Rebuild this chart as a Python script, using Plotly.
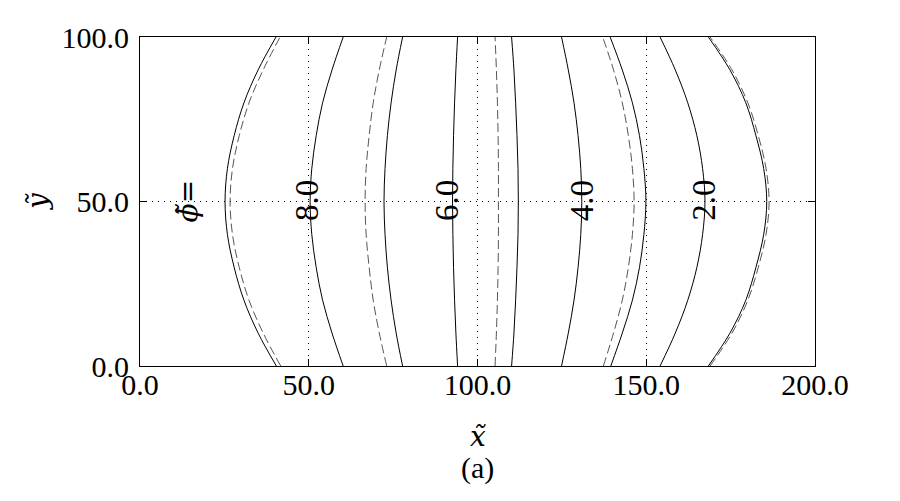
import plotly.graph_objects as go

# y levels at which each contour position was read
y_levels = [0, 10, 20, 30, 40, 50, 60, 70, 80, 90, 100]

# solid contours (x positions at each y level)
solid_A = [40.4, 35.0, 30.8, 27.9, 25.9, 25.2, 25.9, 27.9, 30.8, 35.0, 40.3]
solid_B = [60.2, 56.9, 54.1, 52.2, 50.9, 50.4, 50.9, 52.2, 54.1, 56.9, 60.2]
solid_C = [77.8, 75.9, 74.4, 73.3, 72.6, 72.3, 72.6, 73.3, 74.4, 75.9, 77.8]
solid_D = [94.1, 93.6, 93.2, 92.9, 92.7, 92.6, 92.7, 92.9, 93.2, 93.6, 94.1]
solid_F = [110.1, 110.8, 111.3, 111.7, 112.0, 112.1, 112.0, 111.7, 111.3, 110.8, 110.1]
solid_G = [124.9, 126.9, 128.6, 129.8, 130.6, 130.9, 130.6, 129.8, 128.6, 126.9, 124.9]
solid_I = [139.5, 142.9, 145.9, 148.0, 149.3, 149.9, 149.3, 148.0, 145.9, 142.9, 139.3]
solid_J = [154.1, 158.6, 162.3, 165.0, 166.7, 167.4, 166.7, 165.0, 162.3, 158.6, 154.1]
solid_K = [168.4, 174.8, 179.5, 182.5, 184.8, 185.7, 184.8, 182.5, 179.5, 174.8, 168.4]

# dashed contours
dashed_A = [41.7, 36.5, 32.3, 29.4, 27.4, 26.7, 27.4, 29.4, 32.3, 36.5, 41.5]
dashed_B = [73.1, 70.9, 69.1, 67.9, 67.0, 66.7, 67.0, 67.9, 69.1, 70.9, 73.1]
dashed_E = [105.2, 105.6, 105.9, 106.1, 106.2, 106.2, 106.2, 106.1, 105.9, 105.6, 105.2]
dashed_H = [137.3, 140.3, 142.9, 144.7, 145.9, 146.4, 145.9, 144.7, 142.9, 140.3, 137.1]
dashed_K = [168.9, 175.4, 180.1, 183.2, 185.5, 186.4, 185.5, 183.2, 180.1, 175.4, 168.9]

# contour labels
label_text = ["8.0", "6.0", "4.0", "2.0"]
label_x = [49.3, 90.8, 130.9, 166.9]
label_y = [50.3, 50.3, 50.3, 50.3]
phi_label = "<i>ϕ̃</i>="
phi_x, phi_y = 14.2, 50.3

x_ticks = [0, 50, 100, 150, 200]
x_ticktext = ["0.0", "50.0", "100.0", "150.0", "200.0"]
y_ticks = [0, 50, 100]
y_ticktext = ["0.0", "50.0", "100.0"]

FONT = "Liberation Serif, Times New Roman, serif"
MATHFONT = "DejaVu Serif, Liberation Serif, serif"

fig = go.Figure()
for xs in [solid_A, solid_B, solid_C, solid_D, solid_F, solid_G, solid_I, solid_J, solid_K]:
    fig.add_trace(go.Scatter(x=xs, y=y_levels, mode="lines",
                             line=dict(color="black", width=1, shape="spline", smoothing=1),
                             showlegend=False, hoverinfo="skip"))
for xs in [dashed_A, dashed_B, dashed_E, dashed_H, dashed_K]:
    fig.add_trace(go.Scatter(x=xs, y=y_levels, mode="lines",
                             line=dict(color="#555555", width=1, dash="9px,4px",
                                       shape="spline", smoothing=1),
                             showlegend=False, hoverinfo="skip"))

annotations = []
for t, x, y in zip(label_text, label_x, label_y):
    annotations.append(dict(x=x, y=y, xref="x", yref="y", text=t, showarrow=False,
                            textangle=-90, xanchor="center", yanchor="middle",
                            font=dict(family=FONT, size=33, color="black")))
annotations.append(dict(x=phi_x, y=phi_y, xref="x", yref="y", text=phi_label, showarrow=False,
                        textangle=-90, xanchor="center", yanchor="middle",
                        font=dict(family=MATHFONT, size=28, color="black")))
annotations.append(dict(x=0.5, y=-0.215, xref="paper", yref="paper", text="<i>x̃</i>",
                        showarrow=False, xanchor="center", yanchor="middle",
                        font=dict(family=MATHFONT, size=28, color="black")))
annotations.append(dict(x=0.5, y=-0.31, xref="paper", yref="paper", text="(a)",
                        showarrow=False, xanchor="center", yanchor="middle",
                        font=dict(family=FONT, size=30, color="black")))
annotations.append(dict(x=-0.152, y=0.5, xref="paper", yref="paper", text="<i>ỹ</i>",
                        showarrow=False, textangle=-90, xanchor="center", yanchor="middle",
                        font=dict(family=MATHFONT, size=28, color="black")))

axis_common = dict(showline=True, linecolor="black", linewidth=1, mirror="ticks",
                   ticks="inside", ticklen=7, tickcolor="black", tickwidth=1,
                   showgrid=True, gridcolor="black", gridwidth=1, griddash="1px,5px",
                   zeroline=False, tickfont=dict(family=FONT, size=30, color="black"))

fig.update_xaxes(range=[0, 200], tickvals=x_ticks, ticktext=x_ticktext,
                 ticklabelstandoff=-8, **axis_common)
fig.update_yaxes(range=[0, 100], tickvals=y_ticks, ticktext=y_ticktext,
                 ticklabelstandoff=4, **axis_common)

# the page body adds an 8px offset, so the figure is 8px smaller than the window
fig.update_layout(width=892, height=493,
                  margin=dict(l=132, r=85, t=26, b=135),
                  plot_bgcolor="white", paper_bgcolor="white",
                  annotations=annotations, showlegend=False)

fig.write_html("out.html")
